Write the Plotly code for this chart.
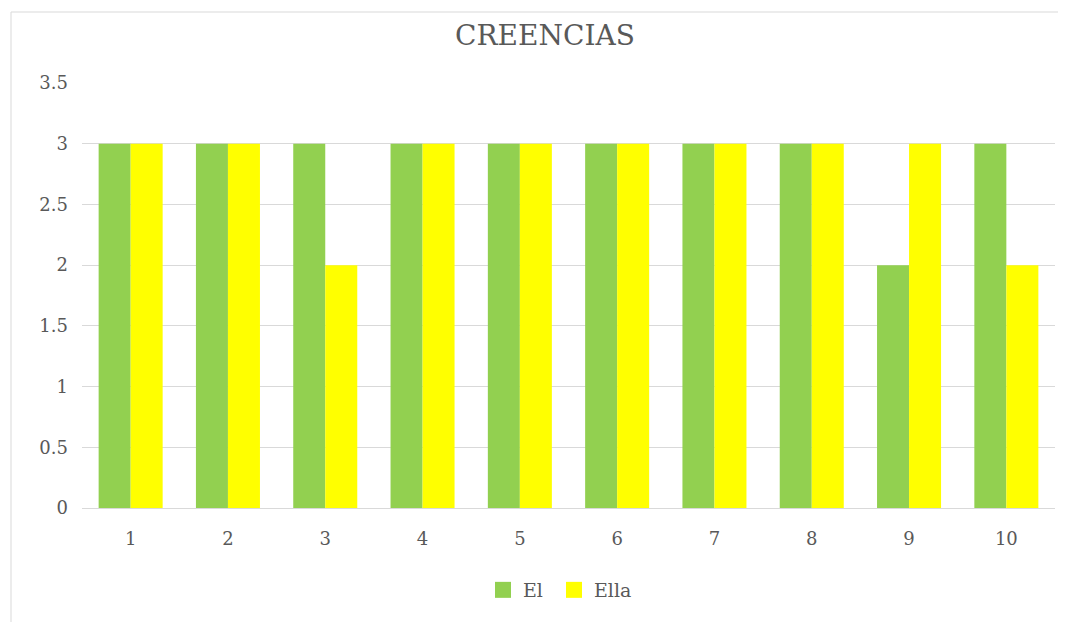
import plotly.graph_objects as go

categories = ["1", "2", "3", "4", "5", "6", "7", "8", "9", "10"]
el_values = [3, 3, 3, 3, 3, 3, 3, 3, 2, 3]
ella_values = [3, 3, 2, 3, 3, 3, 3, 3, 3, 2]
y_ticks = [0, 0.5, 1, 1.5, 2, 2.5, 3, 3.5]
y_tick_labels = ["0", "0.5", "1", "1.5", "2", "2.5", "3", "3.5"]

font_family = "DejaVu Serif, Liberation Serif, serif"
text_color = "#595959"
green = "#92D050"
yellow = "#FFFF00"

fig = go.Figure()
fig.add_trace(go.Bar(name="El", x=categories, y=el_values, marker_color=green,
                     marker_line_width=0, showlegend=False))
fig.add_trace(go.Bar(name="Ella", x=categories, y=ella_values, marker_color=yellow,
                     marker_line_width=0, showlegend=False))
# legend entries with larger square swatches
fig.add_trace(go.Scatter(name="El\u00a0", x=[None], y=[None], mode="markers",
                         marker=dict(symbol="square", size=16, color=green)))
fig.add_trace(go.Scatter(name="Ella", x=[None], y=[None], mode="markers",
                         marker=dict(symbol="square", size=16, color=yellow)))

OFF = 8  # page offset of the rendered figure
W, H = 1066 - OFF, 622 - OFF
# desired screen positions
plot_left, plot_right, plot_top, plot_bottom = 82, 1055, 83, 508
ml = plot_left - OFF
mt = plot_top - OFF
mr = W - (plot_right - OFF)
mb = H - (plot_bottom - OFF)
pw = W - ml - mr
ph = H - mt - mb

def sx(px):
    return (px - OFF - ml) / pw

def sy(py):
    return (H - mb - (py - OFF)) / ph

fig.update_layout(
    width=W, height=H,
    margin=dict(l=ml, r=mr, t=mt, b=mb),
    paper_bgcolor="white", plot_bgcolor="white",
    barmode="group", bargap=0.342, bargroupgap=0,
    font=dict(family=font_family, color=text_color, size=18),
    title=dict(text="CREENCIAS", x=(545 - OFF) / W, xref="container", xanchor="center",
               y=1 - (35 - OFF) / H, yref="container", yanchor="middle",
               font=dict(family=font_family, size=28, color=text_color)),
    xaxis=dict(showgrid=False, showline=True, linecolor="#D9D9D9", linewidth=1,
               ticks="", tickfont=dict(size=18, color=text_color), ticklabelstandoff=14),
    yaxis=dict(range=[0, 3.5], tickvals=y_ticks, ticktext=y_tick_labels,
               showgrid=True, gridcolor="#D9D9D9", gridwidth=1, zeroline=False,
               showline=False, ticks="", tickfont=dict(size=18, color=text_color),
               ticklabelstandoff=13),
    legend=dict(orientation="h", x=sx(560), xanchor="center",
                y=sy(590), yanchor="middle",
                font=dict(size=19, color=text_color), itemwidth=30,
                traceorder="normal"),
    shapes=[
        dict(type="line", xref="paper", yref="paper",
             x0=sx(11), x1=sx(1070), y0=sy(12), y1=sy(12),
             line=dict(color="#D9D9D9", width=1), layer="below"),
        dict(type="line", xref="paper", yref="paper",
             x0=sx(11), x1=sx(11), y0=sy(12), y1=sy(625),
             line=dict(color="#D9D9D9", width=1), layer="below"),
    ],
)

fig.write_html("out.html")
